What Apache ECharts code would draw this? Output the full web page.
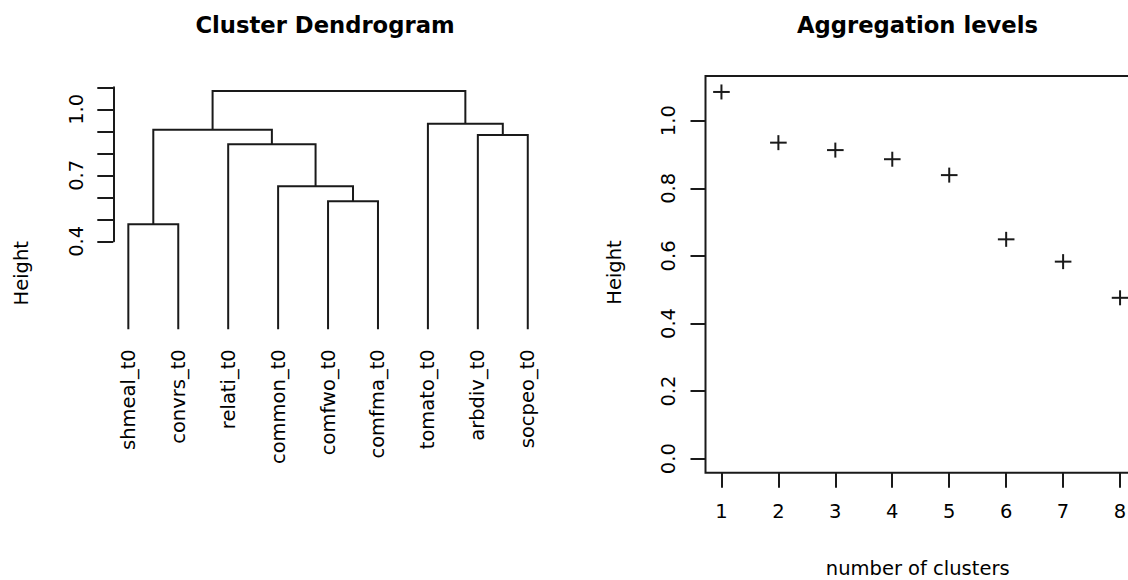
<!DOCTYPE html>
<html>
<head>
<meta charset="utf-8">
<script src="https://cdn.jsdelivr.net/npm/echarts@6/dist/echarts.min.js"></script>
<style>
  html, body { margin: 0; padding: 0; background: #fff; }
  #chart { width: 1128px; height: 580px; }
</style>
</head>
<body>
<div id="chart"></div>
<script>
// ---------- DATA ----------
// Leaves of the dendrogram, in plotted order
const leafLabels = ['shmeal_t0', 'convrs_t0', 'relati_t0', 'common_t0', 'comfwo_t0', 'comfma_t0', 'tomato_t0', 'arbdiv_t0', 'socpeo_t0'];
// Merge steps (R hclust style): negative = leaf position (1-based), positive = earlier merge step
const mergeLeft   = [-1, -5, -4, -3, -8, 1, -7, 6];
const mergeRight  = [-2, -6,  2,  3, -9, 4,  5, 7];
const mergeHeight = [0.477, 0.582, 0.650, 0.841, 0.883, 0.907, 0.934, 1.083];
const leafHeight = 0;
// Dendrogram axis: ticks 0.4..1.1, labelled ticks only
const dendTickLabels = ['0.4', '0.7', '1.0'];

// Aggregation levels
const clusterCounts = [1, 2, 3, 4, 5, 6, 7, 8];
const aggregationHeights = [1.085, 0.935, 0.913, 0.886, 0.839, 0.649, 0.583, 0.476];

// ---------- BUILD ----------
const FONT = 'DejaVu Sans';
const INK = '#1a1a1a';
const LBL = { color: '#000', fontFamily: FONT, fontSize: 19.5 };

function dendrogramRows() {
  const nodeX = [], nodeH = [];
  const pos = id => id < 0 ? { x: -id, h: leafHeight } : { x: nodeX[id - 1], h: nodeH[id - 1] };
  const rows = [];
  for (let i = 0; i < mergeHeight.length; i++) {
    const a = pos(mergeLeft[i]), b = pos(mergeRight[i]);
    nodeX.push((a.x + b.x) / 2);
    nodeH.push(mergeHeight[i]);
    rows.push([a.x, a.h, b.x, b.h, mergeHeight[i]]);
  }
  return rows;
}

const aggData = clusterCounts.map((c, i) => [c, aggregationHeights[i]]);

const chart = echarts.init(document.getElementById('chart'), null, { renderer: 'svg' });

const G = { outerBoundsMode: 'none', containLabel: false };
const option = {
  animation: false,
  backgroundColor: '#fff',
  grid: [
    Object.assign({ left: 78.4, top: 87.3, width: 499.3, height: 242 }, G),            // 0 dendrogram
    Object.assign({ left: 113.3, top: 87.3, width: 1, height: 154 }, G),               // 1 dendrogram height axis
    Object.assign({ left: 705.5, top: 76, width: 430.5, height: 396.7, show: true,
      borderColor: INK, borderWidth: 2, backgroundColor: 'transparent' }, G),          // 2 aggregation box
    Object.assign({ left: 705.5, top: 120.7, width: 1, height: 338 }, G),              // 3 aggregation y ticks
    Object.assign({ left: 721.4, top: 76, width: 398.6, height: 396.7 }, G)            // 4 aggregation x ticks
  ],
  xAxis: [
    { gridIndex: 0, type: 'value', min: 0, max: 10, interval: 1,
      axisLine: { show: false }, axisTick: { show: false }, splitLine: { show: false },
      axisLabel: Object.assign({ rotate: 90, margin: 20, showMinLabel: true, showMaxLabel: true,
        formatter: v => leafLabels[Math.round(v) - 1] || '' }, LBL) },
    { gridIndex: 1, type: 'value', show: false },
    { gridIndex: 2, type: 'value', min: 0.72, max: 8.28, show: false },
    { gridIndex: 3, type: 'value', show: false },
    { gridIndex: 4, type: 'value', min: 1, max: 8, interval: 1,
      axisLine: { show: false }, splitLine: { show: false },
      axisTick: { show: true, inside: false, length: 15, lineStyle: { color: INK, width: 2 } },
      axisLabel: Object.assign({ margin: 29, showMinLabel: true, showMaxLabel: true }, LBL) }
  ],
  yAxis: [
    { gridIndex: 0, type: 'value', min: 0, max: 1.1, show: false },
    { gridIndex: 1, type: 'value', min: 0.4, max: 1.1, interval: 0.1,
      axisLine: { show: true, lineStyle: { color: INK, width: 2 } },
      axisTick: { show: true, inside: false, length: 16, lineStyle: { color: INK, width: 2 } },
      splitLine: { show: false },
      axisLabel: Object.assign({ rotate: 90, margin: 27, showMinLabel: true, showMaxLabel: true,
        formatter: v => { const s = (Math.round(v * 10) / 10).toFixed(1); return dendTickLabels.indexOf(s) >= 0 ? s : ''; } }, LBL) },
    { gridIndex: 2, type: 'value', min: -0.0414, max: 1.1322, show: false },
    { gridIndex: 3, type: 'value', min: 0, max: 1, interval: 0.2,
      axisLine: { show: false }, splitLine: { show: false },
      axisTick: { show: true, inside: false, length: 15, lineStyle: { color: INK, width: 2 } },
      axisLabel: Object.assign({ rotate: 90, margin: 27, showMinLabel: true, showMaxLabel: true,
        formatter: v => v.toFixed(1) }, LBL) },
    { gridIndex: 4, type: 'value', show: false }
  ],
  series: [
    {
      type: 'custom', xAxisIndex: 0, yAxisIndex: 0,
      data: dendrogramRows(),
      encode: { x: [0, 2], y: [1, 3, 4] },
      renderItem: (params, api) => {
        const p1 = api.coord([api.value(0), api.value(1)]);
        const p2 = api.coord([api.value(0), api.value(4)]);
        const p3 = api.coord([api.value(2), api.value(4)]);
        const p4 = api.coord([api.value(2), api.value(3)]);
        return { type: 'polyline', shape: { points: [p1, p2, p3, p4] },
                 style: { stroke: INK, lineWidth: 2, fill: null } };
      }
    },
    {
      type: 'custom', xAxisIndex: 2, yAxisIndex: 2,
      data: aggData,
      encode: { x: 0, y: 1 },
      renderItem: (params, api) => {
        const p = api.coord([api.value(0), api.value(1)]);
        const hw = 8.3, hh = 7.5;
        return { type: 'group', children: [
          { type: 'line', shape: { x1: p[0] - hw, y1: p[1], x2: p[0] + hw, y2: p[1] }, style: { stroke: INK, lineWidth: 2 } },
          { type: 'line', shape: { x1: p[0], y1: p[1] - hh, x2: p[0], y2: p[1] + hh }, style: { stroke: INK, lineWidth: 2 } }
        ] };
      }
    }
  ],
  graphic: [
    { type: 'text', x: 325, y: 25, style: { text: 'Cluster Dendrogram', fill: '#000', font: 'bold 22.7px "DejaVu Sans"', textAlign: 'center', textVerticalAlign: 'middle' } },
    { type: 'text', x: 917.5, y: 25, style: { text: 'Aggregation levels', fill: '#000', font: 'bold 22.7px "DejaVu Sans"', textAlign: 'center', textVerticalAlign: 'middle' } },
    { type: 'text', x: 21, y: 273.3, rotation: Math.PI / 2, style: { text: 'Height', fill: '#000', font: '19.5px "DejaVu Sans"', textAlign: 'center', textVerticalAlign: 'middle' } },
    { type: 'text', x: 614, y: 272.5, rotation: Math.PI / 2, style: { text: 'Height', fill: '#000', font: '19.5px "DejaVu Sans"', textAlign: 'center', textVerticalAlign: 'middle' } },
    { type: 'text', x: 917.7, y: 568, style: { text: 'number of clusters', fill: '#000', font: '19.5px "DejaVu Sans"', textAlign: 'center', textVerticalAlign: 'middle' } }
  ]
};
chart.setOption(option);
</script>
</body>
</html>
